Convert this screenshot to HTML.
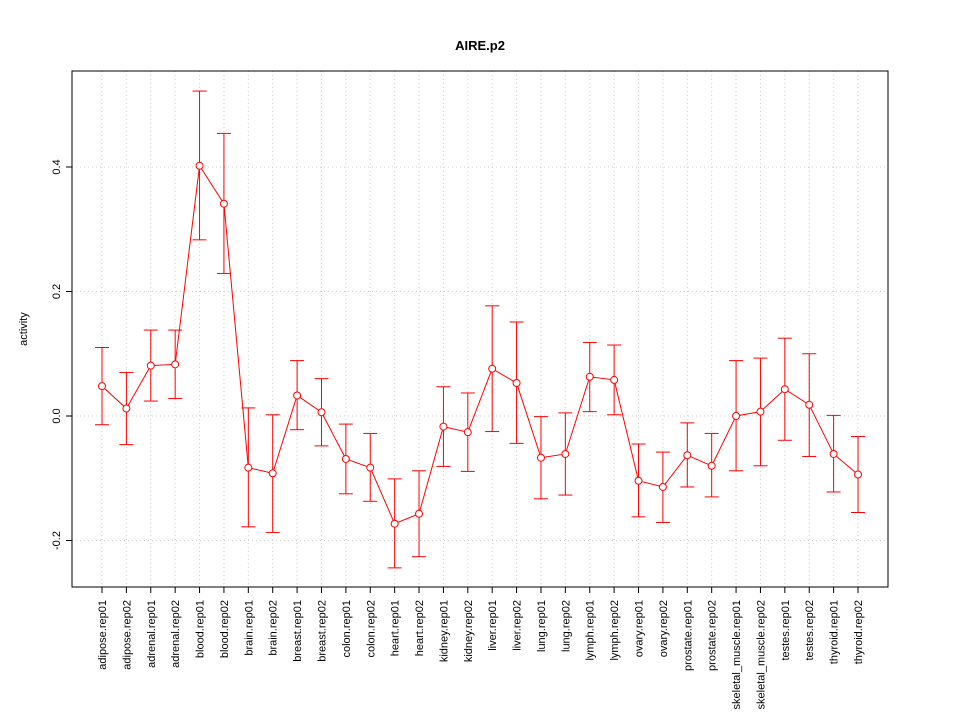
<!DOCTYPE html>
<html><head><meta charset="utf-8"><style>body{margin:0;background:#fff}svg{display:block;font-family:"Liberation Sans",sans-serif}</style></head>
<body>
<svg id="c" width="960" height="720"></svg>
<script>
const categories=["adipose.rep01","adipose.rep02","adrenal.rep01","adrenal.rep02","blood.rep01","blood.rep02","brain.rep01","brain.rep02","breast.rep01","breast.rep02","colon.rep01","colon.rep02","heart.rep01","heart.rep02","kidney.rep01","kidney.rep02","liver.rep01","liver.rep02","lung.rep01","lung.rep02","lymph.rep01","lymph.rep02","ovary.rep01","ovary.rep02","prostate.rep01","prostate.rep02","skeletal_muscle.rep01","skeletal_muscle.rep02","testes.rep01","testes.rep02","thyroid.rep01","thyroid.rep02"];
const values=[0.048,0.012,0.081,0.083,0.402,0.341,-0.083,-0.092,0.033,0.006,-0.069,-0.083,-0.173,-0.157,-0.017,-0.026,0.076,0.053,-0.067,-0.061,0.063,0.058,-0.104,-0.114,-0.063,-0.080,0.000,0.007,0.043,0.018,-0.061,-0.094];
const upper=[0.110,0.070,0.138,0.138,0.522,0.454,0.013,0.002,0.089,0.060,-0.013,-0.028,-0.101,-0.088,0.047,0.037,0.177,0.151,-0.001,0.005,0.118,0.114,-0.045,-0.058,-0.011,-0.028,0.089,0.093,0.125,0.100,0.001,-0.033];
const lower=[-0.014,-0.046,0.024,0.028,0.283,0.229,-0.178,-0.187,-0.022,-0.048,-0.125,-0.137,-0.244,-0.226,-0.081,-0.089,-0.025,-0.044,-0.133,-0.127,0.007,0.002,-0.162,-0.171,-0.114,-0.130,-0.088,-0.080,-0.039,-0.065,-0.122,-0.155];
const yTicks=[-0.2,0.0,0.2,0.4];
const yTickLabels=["-0.2","0.0","0.2","0.4"];
const svg=document.getElementById('c');const NS="http://www.w3.org/2000/svg";
const L=72,R=888,T=71,B=587;
const x=i=>102+i*(858-102)/(categories.length-1);
const y=v=>416-v*622.5;
function mk(t,a,p){const e=document.createElementNS(NS,t);for(const k in a)e.setAttribute(k,a[k]);(p||svg).appendChild(e);return e;}
let e;
e=mk('text',{x:480,y:50,'text-anchor':'middle','font-size':13,'font-weight':'bold'});e.textContent="AIRE.p2";


categories.forEach((c,i)=>{e=mk('line',{x1:x(i),x2:x(i),y1:T,y2:B,stroke:'#ccc','stroke-dasharray':'1,3'});


e=mk('line',{x1:x(i),x2:x(i),y1:B,y2:B+6,stroke:'#000'});


e=mk('text',{transform:`translate(${x(i)+4},600) rotate(-90)`,'text-anchor':'end','font-size':11});e.textContent=c;

});
yTicks.forEach((v,i)=>{e=mk('line',{x1:L,x2:R,y1:y(v),y2:y(v),stroke:'#ccc','stroke-dasharray':'1,3'});


e=mk('line',{x1:L-6,x2:L,y1:y(v),y2:y(v),stroke:'#000'});


e=mk('text',{transform:`translate(${L-12},${y(v)}) rotate(-90)`,'text-anchor':'middle','font-size':11});e.textContent=yTickLabels[i];

});
e=mk('rect',{x:L,y:T,width:R-L,height:B-T,fill:'none',stroke:'#000'});


e=mk('text',{transform:'translate(27,329) rotate(-90)','text-anchor':'middle','font-size':11});e.textContent="activity";


categories.forEach((c,i)=>{const g=mk('g',{stroke:'red',fill:'none'});


mk('line',{x1:x(i),x2:x(i),y1:y(upper[i]),y2:y(lower[i])},g);
mk('line',{x1:x(i)-7,x2:x(i)+7,y1:y(upper[i]),y2:y(upper[i])},g);
mk('line',{x1:x(i)-7,x2:x(i)+7,y1:y(lower[i]),y2:y(lower[i])},g);});
e=mk('polyline',{points:values.map((v,i)=>x(i)+','+y(v)).join(' '),fill:'none',stroke:'red'});


values.forEach((v,i)=>{e=mk('circle',{cx:x(i),cy:y(v),r:3.5,fill:'#fff',stroke:'red'});

});
</script>
</body></html>
